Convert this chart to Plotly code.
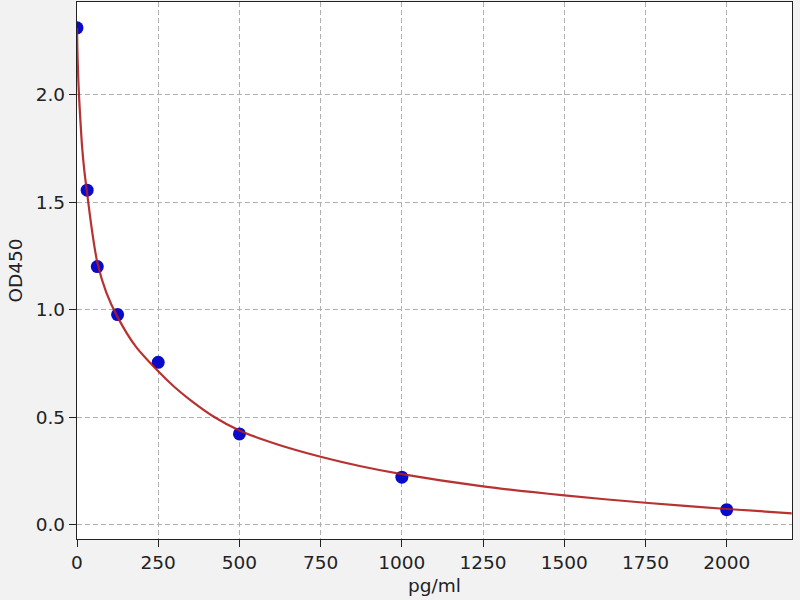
import plotly.graph_objects as go

# Standard points (concentration pg/ml, OD450)
conc = [0, 31.25, 62.5, 125, 250, 500, 1000, 2000]
od = [2.31, 1.555, 1.20, 0.977, 0.755, 0.422, 0.221, 0.070]

# Fitted curve
curve_x = [0, 1, 2, 4, 6, 10, 16, 23, 31.25, 45, 62.5, 90, 125, 180, 250, 300, 350,
           420, 500, 620, 750, 870, 1000, 1250, 1500, 1750, 2000, 2200]
curve_y = [2.31, 2.22, 2.16, 2.07, 2.00, 1.89, 1.75, 1.64, 1.54, 1.38, 1.22, 1.08,
           0.965, 0.83, 0.713, 0.640, 0.578, 0.503, 0.438, 0.372, 0.316, 0.273, 0.235,
           0.178, 0.136, 0.102, 0.073, 0.053]

x_ticks = [0, 250, 500, 750, 1000, 1250, 1500, 1750, 2000]
y_ticks = [0.0, 0.5, 1.0, 1.5, 2.0]

font = dict(family="DejaVu Sans", size=18.5, color="#222222")

fig = go.Figure()
fig.add_trace(go.Scatter(
    x=conc, y=od, mode="markers",
    marker=dict(color="#0a0acd", size=13, line=dict(width=0)),
    showlegend=False,
))
fig.add_trace(go.Scatter(
    x=curve_x, y=curve_y, mode="lines",
    line=dict(color="#b01c1c", width=2.2, shape="spline", smoothing=0.8),
    opacity=0.9,
    showlegend=False,
))

axis_common = dict(
    showline=True, mirror=True, linecolor="#222222", linewidth=1.3,
    ticks="outside", ticklen=7, tickwidth=1.3, tickcolor="#222222",
    showgrid=True, gridcolor="#b0b0b0", griddash="5px,3px", gridwidth=1,
    zeroline=False, tickfont=font,
)

fig.update_layout(
    width=800, height=600, autosize=False,
    margin=dict(l=77, r=8, t=2, b=61),
    paper_bgcolor="#f2f2f2", plot_bgcolor="#ffffff",
    font=font,
    xaxis=dict(range=[0, 2201], tickvals=x_ticks, ticktext=[str(v) for v in x_ticks],
               title=dict(text="pg/ml", font=font, standoff=6), **axis_common),
    yaxis=dict(range=[-0.0665, 2.43], tickvals=y_ticks,
               ticktext=[f"{v:.1f}" for v in y_ticks],
               title=dict(text="OD450", font=font, standoff=8), **axis_common),
)

fig.write_html("out.html", config={"displayModeBar": False},
               post_script="document.body.style.margin='0px';")
